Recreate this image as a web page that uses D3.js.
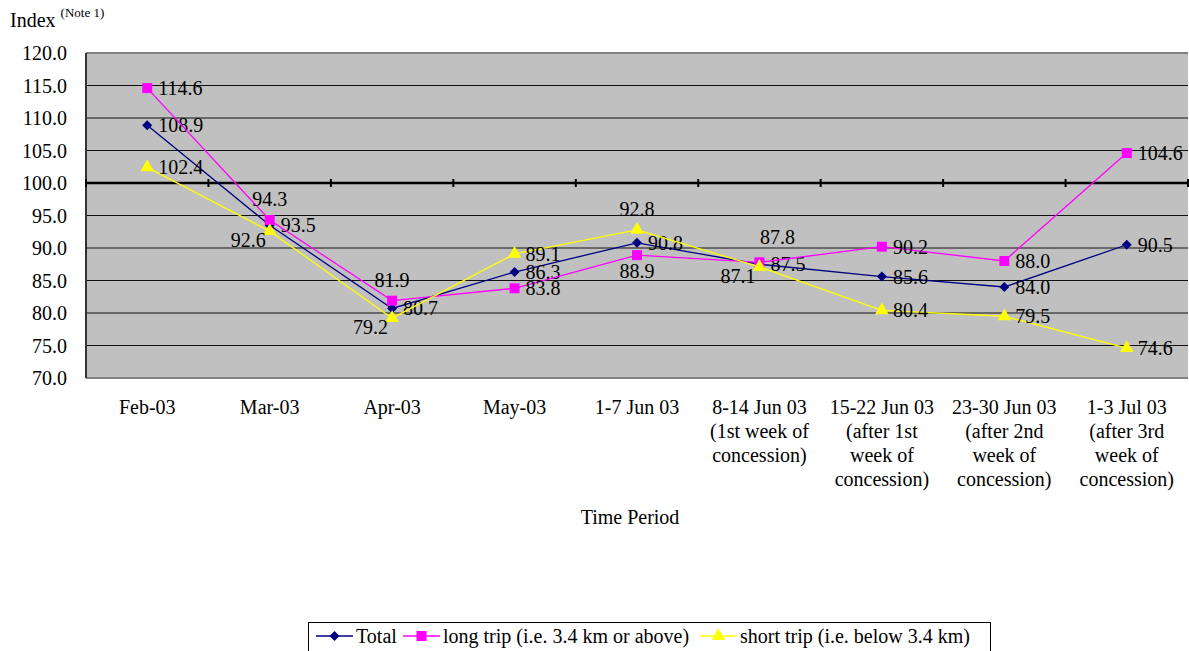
<!DOCTYPE html>
<html>
<head>
<meta charset="utf-8">
<script src="https://cdn.jsdelivr.net/npm/d3@7"></script>
<style>
  body { margin: 0; background: #fff; }
  svg text { font-family: "Liberation Serif", "Times New Roman", serif; fill: #000; }
</style>
</head>
<body>
<svg id="chart" width="1189" height="651"></svg>
<script>
// data
const periods = [
  ["Feb-03"], ["Mar-03"], ["Apr-03"], ["May-03"], ["1-7 Jun 03"],
  ["8-14 Jun 03", "(1st week of", "concession)"],
  ["15-22 Jun 03", "(after 1st", "week of", "concession)"],
  ["23-30 Jun 03", "(after 2nd", "week of", "concession)"],
  ["1-3 Jul 03", "(after 3rd", "week of", "concession)"]
];
const totalVals = [108.9, 93.5, 80.7, 86.3, 90.8, 87.5, 85.6, 84.0, 90.5];
const longVals  = [114.6, 94.3, 81.9, 83.8, 88.9, 87.8, 90.2, 88.0, 104.6];
const shortVals = [102.4, 92.6, 79.2, 89.1, 92.8, 87.1, 80.4, 79.5, 74.6];
const yTicks = [70, 75, 80, 85, 90, 95, 100, 105, 110, 115, 120];

// where each value label sits: r = right, a = above, b = below, lb = left-below
const totalPos = ["r", "r", "r", "r", "r", "r", "r", "r", "r"];
const longPos  = ["r", "a", "a", "r", "b", "ar", "r", "r", "r"];
const shortPos = ["r", "lb", "lb", "r", "a", "lb", "r", "r", "r"];

const series = [
  { name: "Total", vals: totalVals, pos: totalPos, color: "#000080", shape: d3.symbolDiamond2, size: 64 },
  { name: "long trip (i.e. 3.4 km or above)", vals: longVals, pos: longPos, color: "#ff00ff", shape: d3.symbolSquare, size: 100 },
  { name: "short trip (i.e. below 3.4 km)", vals: shortVals, pos: shortPos, color: "#ffff00", shape: d3.symbolTriangle, size: 80 }
];

const svg = d3.select("#chart");
const pLeft = 86, pRight = 1188, pTop = 53, pBottom = 378;
const fs = 20;

const x = d3.scaleBand().domain(d3.range(periods.length)).range([pLeft, pRight]).padding(0);
const y = d3.scaleLinear().domain([70, 120]).range([pBottom, pTop]);
const cx = i => x(i) + x.bandwidth() / 2;

// plot background
svg.append("rect")
  .attr("x", pLeft).attr("y", pTop)
  .attr("width", pRight - pLeft).attr("height", pBottom - pTop)
  .attr("fill", "#c0c0c0");

// gridlines
svg.append("g").selectAll("line").data(yTicks.filter(t => t !== 70 && t !== 120 && t !== 100))
  .join("line")
  .attr("x1", pLeft).attr("x2", pRight)
  .attr("y1", d => y(d)).attr("y2", d => y(d))
  .attr("stroke", "#111").attr("stroke-width", 1);

// border
svg.append("line").attr("x1", pLeft).attr("x2", pRight).attr("y1", pTop).attr("y2", pTop)
  .attr("stroke", "#808080").attr("stroke-width", 2);
svg.append("line").attr("x1", pLeft).attr("x2", pRight).attr("y1", pBottom).attr("y2", pBottom)
  .attr("stroke", "#808080").attr("stroke-width", 2);
svg.append("line").attr("x1", pLeft).attr("x2", pLeft).attr("y1", pTop).attr("y2", pBottom)
  .attr("stroke", "#333").attr("stroke-width", 2);

// y axis labels
svg.append("g").selectAll("text").data(yTicks)
  .join("text")
  .attr("x", 67).attr("y", d => y(d) + 7)
  .attr("text-anchor", "end")
  .attr("font-size", fs)
  .text(d => d.toFixed(1));

// category axis crossing at 100
const axisG = svg.append("g").attr("transform", `translate(0,${y(100)})`);
axisG.append("line").attr("x1", pLeft).attr("x2", pRight).attr("stroke", "#000").attr("stroke-width", 2.5);
axisG.selectAll("line.tick").data(d3.range(periods.length + 1))
  .join("line").attr("class", "tick")
  .attr("x1", i => pLeft + i * x.bandwidth()).attr("x2", i => pLeft + i * x.bandwidth())
  .attr("y1", -4).attr("y2", 4)
  .attr("stroke", "#000").attr("stroke-width", 2);

// category labels below plot
svg.append("g").selectAll("text").data(periods)
  .join("text")
  .attr("x", (d, i) => cx(i)).attr("y", 414)
  .attr("text-anchor", "middle").attr("font-size", fs)
  .each(function (d) {
    const tx = d3.select(this).attr("x");
    d3.select(this).selectAll("tspan").data(d).join("tspan")
      .attr("x", tx)
      .attr("dy", (t, j) => j === 0 ? 0 : 24)
      .text(t => t);
  });

// titles
svg.append("text").attr("x", 630).attr("y", 524).attr("text-anchor", "middle")
  .attr("font-size", fs).text("Time Period");
const idx = svg.append("text").attr("x", 10).attr("y", 27).attr("font-size", fs);
idx.append("tspan").text("Index ");
idx.append("tspan").attr("font-size", 13).attr("dy", -10).text("(Note 1)");

// lines, markers, labels
const line = d3.line().x((d, i) => cx(i)).y(d => y(d));
series.forEach(s => {
  const g = svg.append("g");
  g.append("path").attr("d", line(s.vals))
    .attr("fill", "none").attr("stroke", s.color).attr("stroke-width", 1.3);
  g.selectAll("path.m").data(s.vals).join("path").attr("class", "m")
    .attr("transform", (d, i) => `translate(${cx(i)},${y(d)})`)
    .attr("d", d3.symbol(s.shape, s.size))
    .attr("fill", s.color);
  g.selectAll("text").data(s.vals).join("text")
    .attr("font-size", fs)
    .attr("x", (d, i) => {
      const p = s.pos[i];
      if (p === "r") return cx(i) + 11;
      if (p === "lb") return cx(i) - 4;
      if (p === "ar") return cx(i) + 18;
      return cx(i);
    })
    .attr("y", (d, i) => {
      const p = s.pos[i];
      if (p === "a") return y(d) - 14;
      if (p === "ar") return y(d) - 18;
      if (p === "b") return y(d) + 23;
      if (p === "lb") return y(d) + 16;
      return y(d) + 7;
    })
    .attr("text-anchor", (d, i) => {
      const p = s.pos[i];
      if (p === "r") return "start";
      if (p === "lb") return "end";
      return "middle";
    })
    .text(d => d.toFixed(1));
});

// legend
const lg = svg.append("g");
lg.append("rect").attr("x", 308.5).attr("y", 622.5).attr("width", 682).attr("height", 32)
  .attr("fill", "#fff").attr("stroke", "#000");
const legendX = [316, 403, 700];
series.forEach((s, k) => {
  const lx = legendX[k];
  lg.append("line").attr("x1", lx).attr("x2", lx + 37).attr("y1", 636).attr("y2", 636)
    .attr("stroke", s.color).attr("stroke-width", 1.5);
  lg.append("path").attr("transform", `translate(${lx + 18.5},636)`)
    .attr("d", d3.symbol(s.shape, s.size)).attr("fill", s.color);
  lg.append("text").attr("x", lx + 40).attr("y", 643).attr("font-size", fs).text(s.name);
});
</script>
</body>
</html>
